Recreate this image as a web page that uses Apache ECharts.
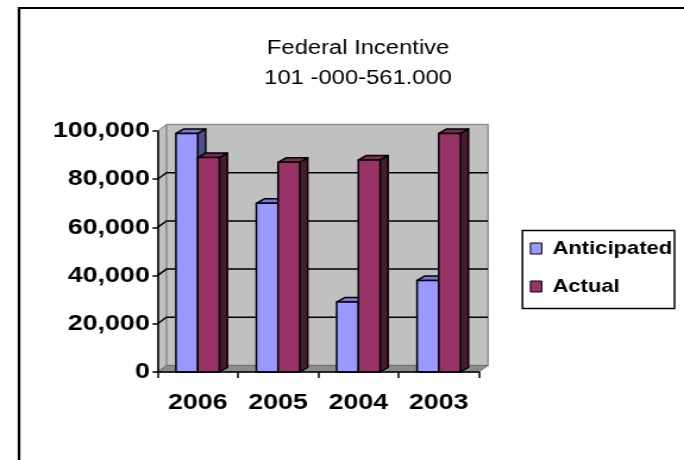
<!DOCTYPE html>
<html>
<head>
<meta charset="utf-8">
<script src="https://cdn.jsdelivr.net/npm/echarts@6/dist/echarts.min.js"></script>
<style>
  html, body { margin: 0; padding: 0; background: #fff; overflow: hidden; }
  /* The chart is laid out on a 575px-wide canvas and widened to 684px,
     which gives the text and columns their broad, stretched proportions. */
  #chart { width: 575px; height: 460px; transform: scaleX(1.18957); transform-origin: 0 0; }
</style>
</head>
<body>
<div id="chart"></div>
<script>
// Federal Incentive 101-000-561.000: anticipated vs actual by year
const years = ['2006', '2005', '2004', '2003'];
const anticipated = [99000, 70000, 29000, 38000];
const actual = [89000, 87000, 88000, 99000];
const yTicks = [0, 20000, 40000, 60000, 80000, 100000];
const seriesNames = ['Anticipated', 'Actual'];

const FONT = "'Liberation Sans', Arial, sans-serif";

// Oblique depth offsets for the 3D look (in layout pixels)
const WALL_DX = 7.6, WALL_DY = -6.5;
const BAR_DX = 6.7, BAR_DY = -4.5;

const palette = {
  Anticipated: { front: '#9999FF', side: '#4D4D8C', top: '#7A7AD6' },
  Actual: { front: '#993366', side: '#4A1A33', top: '#7A2952' }
};

const chart = echarts.init(document.getElementById('chart'), null, { renderer: 'canvas' });

// Back wall, side wall, floor and the gridlines painted on the walls
function renderWalls(params, api) {
  const cs = params.coordSys;
  const x0 = cs.x, x1 = cs.x + cs.width;
  const yTop = api.coord([0, yTicks[yTicks.length - 1]])[1];
  const yBot = api.coord([0, yTicks[0]])[1];
  const children = [];
  children.push({
    type: 'polygon',
    shape: { points: [[x0, yTop], [x0 + WALL_DX, yTop + WALL_DY], [x0 + WALL_DX, yBot + WALL_DY], [x0, yBot]] },
    style: { fill: '#C0C0C0', stroke: '#808080', lineWidth: 1 }
  });
  children.push({
    type: 'rect',
    shape: { x: x0 + WALL_DX, y: yTop + WALL_DY, width: x1 - x0, height: yBot - yTop },
    style: { fill: '#C0C0C0', stroke: '#909090', lineWidth: 1.5 }
  });
  children.push({
    type: 'polygon',
    shape: { points: [[x0, yBot], [x0 + WALL_DX, yBot + WALL_DY], [x1 + WALL_DX, yBot + WALL_DY], [x1, yBot]] },
    style: { fill: '#8C8C8C', stroke: '#6E6E6E', lineWidth: 1 }
  });
  yTicks.slice(1, -1).forEach(function (v) {
    const y = api.coord([0, v])[1];
    children.push({
      type: 'polyline',
      shape: { points: [[x0, y], [x0 + WALL_DX, y + WALL_DY], [x1 + WALL_DX, y + WALL_DY]] },
      style: { stroke: '#000', lineWidth: 1.5, fill: null }
    });
  });
  return { type: 'group', children: children };
}

// One 3D column: front face, right side face and top face
function makeBarRenderer(name, offsetIndex) {
  const c = palette[name];
  return function (params, api) {
    const idx = api.value(0);
    const top = api.coord([idx, api.value(1)]);
    const base = api.coord([idx, 0]);
    const band = api.size([1, 0])[0];
    const w = band * 0.27;
    const xl = top[0] - w + offsetIndex * w;
    const xr = xl + w;
    const yt = top[1], yb = base[1];
    const stroke = { stroke: '#000', lineWidth: 1.5, lineJoin: 'round' };
    return {
      type: 'group',
      children: [
        { type: 'polygon', shape: { points: [[xr, yt], [xr + BAR_DX, yt + BAR_DY], [xr + BAR_DX, yb + BAR_DY], [xr, yb]] },
          style: Object.assign({ fill: c.side }, stroke) },
        { type: 'polygon', shape: { points: [[xl, yt], [xl + BAR_DX, yt + BAR_DY], [xr + BAR_DX, yt + BAR_DY], [xr, yt]] },
          style: Object.assign({ fill: c.top }, stroke) },
        { type: 'rect', shape: { x: xl, y: yt, width: w, height: yb - yt },
          style: Object.assign({ fill: c.front }, stroke) }
      ]
    };
  };
}

const option = {
  backgroundColor: '#fff',
  animation: false,
  title: {
    text: 'Federal Incentive\n101 -000-561.000',
    left: 301,
    top: 33,
    textAlign: 'center',
    padding: 0,
    textStyle: { fontFamily: FONT, fontSize: 20, fontWeight: 'normal', color: '#000', lineHeight: 30 }
  },
  legend: {
    data: seriesNames,
    orient: 'vertical',
    left: 445.4,
    top: 237.5,
    padding: 0,
    itemWidth: 9.5,
    itemHeight: 11,
    itemGap: 16,
    icon: 'rect',
    itemStyle: { borderColor: '#000', borderWidth: 1 },
    textStyle: { fontFamily: FONT, fontSize: 18.5, fontWeight: 'bold', color: '#000', lineHeight: 22, padding: [0, 0, 0, 4] }
  },
  grid: { left: 132.4, top: 131, width: 270.2, height: 241, containLabel: false },
  xAxis: {
    type: 'category',
    data: years,
    boundaryGap: true,
    z: 10,
    axisLine: { show: true, lineStyle: { color: '#000', width: 1.5 } },
    axisTick: { show: true, length: 6, lineStyle: { color: '#000', width: 1.5 } },
    axisLabel: { fontFamily: FONT, fontSize: 22.5, fontWeight: 'bold', color: '#000', margin: 19 },
    splitLine: { show: false }
  },
  yAxis: {
    type: 'value',
    min: 0,
    max: 100000,
    interval: 20000,
    z: 10,
    axisLine: { show: true, lineStyle: { color: '#000', width: 1.5 } },
    axisTick: { show: true, length: 4.2, lineStyle: { color: '#000', width: 1.5 } },
    axisLabel: {
      fontFamily: FONT, fontSize: 22.5, fontWeight: 'bold', color: '#000', margin: 6.5,
      formatter: function (v) { return v.toLocaleString('en-US'); }
    },
    splitLine: { show: false }
  },
  graphic: [
    // chart frame
    { type: 'polyline', silent: true, z: 0,
      shape: { points: [[16, 470], [16, 8], [590, 8]] },
      style: { stroke: '#000', lineWidth: 2.2, fill: null } },
    // legend box
    { type: 'rect', silent: true, z: 0,
      shape: { x: 439.2, y: 230.5, width: 127.8, height: 78 },
      style: { fill: '#fff', stroke: '#000', lineWidth: 1.5 } }
  ],
  series: [
    { type: 'custom', name: 'walls', silent: true, z: 1, data: [[0, 0]], renderItem: renderWalls },
    { type: 'custom', name: 'Anticipated', z: 2, itemStyle: { color: palette.Anticipated.front },
      data: anticipated.map(function (v, i) { return [i, v]; }),
      encode: { x: 0, y: 1 }, renderItem: makeBarRenderer('Anticipated', 0) },
    { type: 'custom', name: 'Actual', z: 3, itemStyle: { color: palette.Actual.front },
      data: actual.map(function (v, i) { return [i, v]; }),
      encode: { x: 0, y: 1 }, renderItem: makeBarRenderer('Actual', 1) }
  ]
};

chart.setOption(option);
</script>
</body>
</html>
